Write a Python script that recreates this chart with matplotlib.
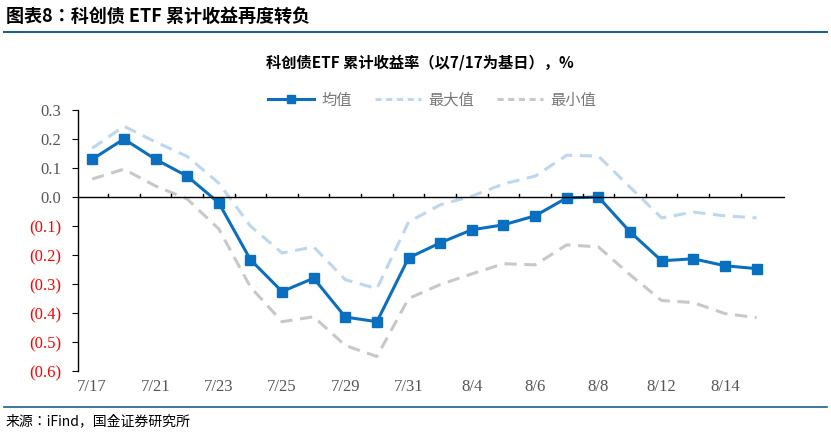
import numpy as np
import matplotlib
matplotlib.use('Agg')
import matplotlib.pyplot as plt
from matplotlib.lines import Line2D

dates = ['7/17', '7/18', '7/21', '7/22', '7/23', '7/24', '7/25', '7/28', '7/29', '7/30', '7/31',
         '8/1', '8/4', '8/5', '8/6', '8/7', '8/8', '8/11', '8/12', '8/13', '8/14', '8/15']
avg_vals = [0.130, 0.200, 0.130, 0.072, -0.020, -0.216, -0.326, -0.280, -0.414, -0.430, -0.210,
            -0.158, -0.113, -0.096, -0.065, -0.003, 0.000, -0.120, -0.220, -0.213, -0.237, -0.247]
max_vals = [0.168, 0.244, 0.190, 0.140, 0.048, -0.100, -0.193, -0.172, -0.285, -0.316, -0.086,
            -0.027, 0.003, 0.045, 0.072, 0.144, 0.141, 0.034, -0.072, -0.052, -0.065, -0.072]
min_vals = [0.062, 0.096, 0.038, -0.007, -0.110, -0.310, -0.430, -0.413, -0.512, -0.550, -0.350,
            -0.302, -0.265, -0.230, -0.234, -0.165, -0.172, -0.268, -0.357, -0.364, -0.402, -0.416]
yticks = [0.3, 0.2, 0.1, 0.0, -0.1, -0.2, -0.3, -0.4, -0.5, -0.6]

CJK = ['Noto Sans CJK SC', 'Noto Sans CJK JP', 'Noto Sans CJK TC', 'Noto Sans CJK KR', 'DejaVu Sans']
SERIF = 'Liberation Serif'
BLUE = '#0b6fc0'
plt.rcParams['font.family'] = 'sans-serif'
plt.rcParams['font.sans-serif'] = CJK

fig = plt.figure(figsize=(8.31, 4.36), dpi=100)
ax = fig.add_axes([78 / 831, 1 - 371 / 436, (785 - 78) / 831, (371 - 110) / 436])

x = np.arange(len(dates))
ax.plot(x, max_vals, color='#bdd7ee', lw=2.2, ls=(0, (4, 2.5)))
ax.plot(x, min_vals, color='#c8c8c8', lw=2.2, ls=(0, (4, 2.5)))
ax.plot(x, avg_vals, color=BLUE, lw=2.2, marker='s', ms=7)

ax.set_xlim(-0.45, 21.9)
ax.set_ylim(-0.6, 0.3)
ax.axhline(0, color='black', lw=1)
for k in range(len(dates) - 1):
    ax.plot([k + 0.5, k + 0.5], [0, 0.012], color='black', lw=1)

for s in ['top', 'right', 'bottom']:
    ax.spines[s].set_visible(False)
ax.spines['left'].set_linewidth(1)
ax.set_yticks(yticks)
labels = []
for v in yticks:
    labels.append(f'{v:.1f}' if v >= 0 else f'({abs(v):.1f})')
ax.set_yticklabels(labels, fontfamily=SERIF, fontsize=12)
for t, v in zip(ax.get_yticklabels(), yticks):
    t.set_color('#555555' if v >= 0 else 'red')
ax.tick_params(axis='y', length=4, pad=8)
ax.set_xticks(x[::2])
ax.set_xticklabels(dates[::2], fontfamily=SERIF, fontsize=12, color='#555555')
ax.tick_params(axis='x', length=0, pad=6)

handles = [Line2D([], [], color=BLUE, lw=2.2, marker='s', ms=6),
           Line2D([], [], color='#bdd7ee', lw=2.2, ls=(0, (2, 1.5))),
           Line2D([], [], color='#c8c8c8', lw=2.2, ls=(0, (2, 1.5)))]
fig.legend(handles, ['均值', '最大值', '最小值'], loc='center', bbox_to_anchor=(0.52, 1 - 100 / 436),
           ncol=3, frameon=False, prop={'family': CJK, 'size': 11}, labelcolor='#777777',
           handlelength=3, columnspacing=1.5, handletextpad=0.5)

fig.text(0.007, 1 - 16 / 436, '图表8：科创债 ETF 累计收益再度转负', fontfamily=CJK, fontsize=13,
         fontweight='bold', style='italic', va='center')
fig.add_artist(Line2D([0.005, 0.995], [1 - 32 / 436] * 2, color='#1f5f8b', lw=1.5))
fig.text(0.505, 1 - 62 / 436, '科创债ETF 累计收益率（以7/17为基日），%', fontfamily=CJK,
         fontsize=11, fontweight='bold', ha='center', va='center')
fig.add_artist(Line2D([0.005, 0.995], [1 - 407 / 436] * 2, color='#1f5f8b', lw=1.2))
fig.text(0.007, 1 - 421 / 436, '来源：iFind，国金证券研究所', fontfamily=CJK, fontsize=10, va='center')

fig.savefig('out.png', dpi=100)
